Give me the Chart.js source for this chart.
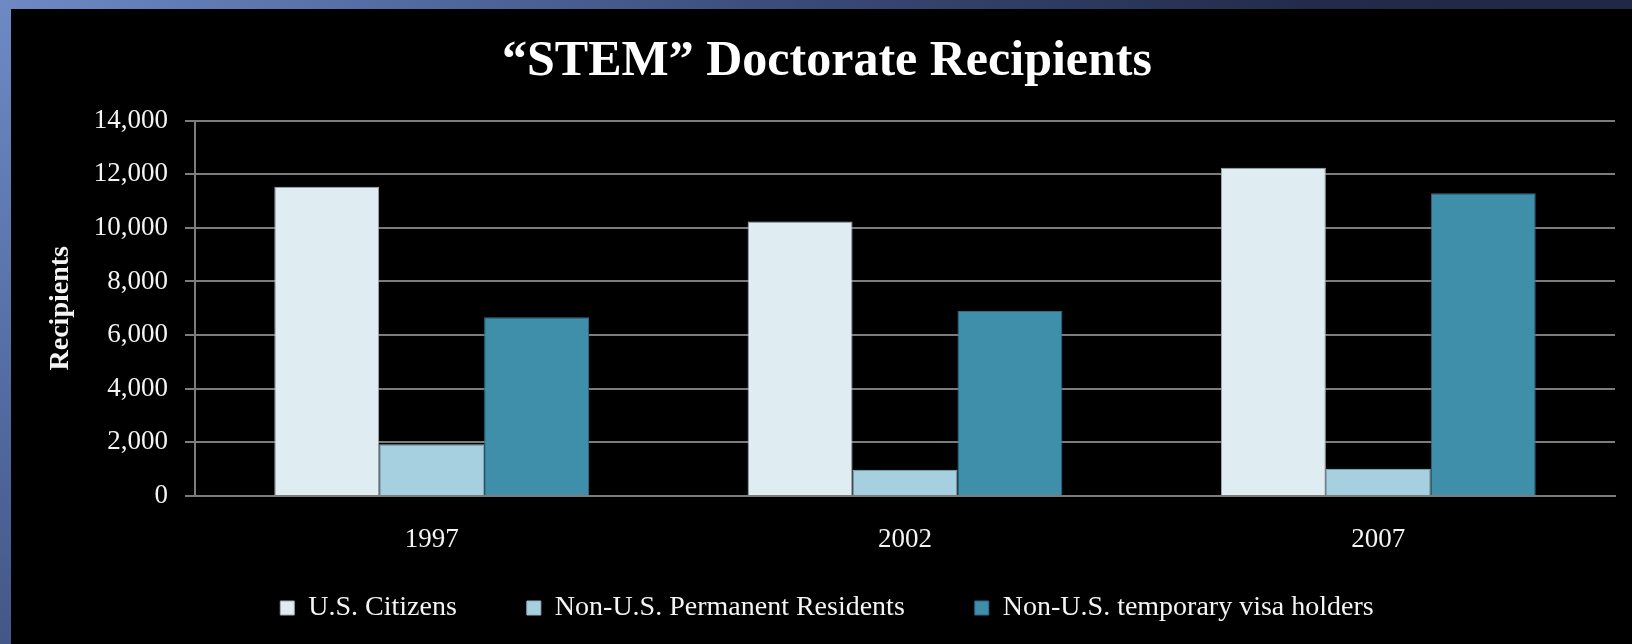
<!DOCTYPE html>
<html>
<head>
<meta charset="utf-8">
<title>STEM Doctorate Recipients</title>
<script src="https://cdn.jsdelivr.net/npm/chart.js@4.4.1/dist/chart.umd.min.js"></script>
<style>
    html, body {
        margin: 0;
        padding: 0;
        width: 1632px;
        height: 644px;
        overflow: hidden;
    }
    body {
        /* slide frame: light blue in the top-left corner fading to navy */
        background: radial-gradient(circle at 0 0, #6e89c4 0px, #566fa6 350px, #3a4a78 800px, #222c4a 1300px, #1e2743 1700px);
        position: relative;
    }
    #frame {
        position: absolute;
        left: 11px;
        top: 9px;
        width: 1621px;
        height: 635px;
        background: #000;
    }
    canvas {
        display: block;
    }
</style>
</head>
<body>
<div id="frame">
    <canvas id="stemChart" width="1621" height="635"></canvas>
</div>
<script>
// Doctorate recipients in STEM fields, by citizenship and year
const years = ['1997', '2002', '2007'];
const usCitizens = [11530, 10230, 12240];
const permanentResidents = [1930, 980, 1020];
const temporaryVisaHolders = [6660, 6900, 11290];

const seriesNames = ['U.S. Citizens', 'Non-U.S. Permanent Residents', 'Non-U.S. temporary visa holders'];
const yTicks = [0, 2000, 4000, 6000, 8000, 10000, 12000, 14000];

const textColor = '#f4f4f4';
const gridColor = '#7c7c7c';

Chart.defaults.font.family = "'Liberation Serif', 'Times New Roman', serif";
Chart.defaults.color = textColor;

// The legend uses wide label padding for the gaps between items, which also
// pushes its row down; grow its box upward after layout so the row sits
// closer to the year labels (bottom edge stays put so nothing gets clipped).
const legendLift = {
    id: 'legendLift',
    afterLayout(chart) {
        chart.legend.top -= 27;
        chart.legend.height += 27;
    }
};

const chartData = {
    labels: years,
    datasets: [{
        label: seriesNames[0],
        data: usCitizens,
        backgroundColor: '#dfedf3',
        borderColor: '#9fabb1',
        borderWidth: 1
    }, {
        label: seriesNames[1],
        data: permanentResidents,
        backgroundColor: '#a6cfe0',
        borderColor: '#8fb8c9',
        borderWidth: 1
    }, {
        label: seriesNames[2],
        data: temporaryVisaHolders,
        backgroundColor: '#3f8eaa',
        borderColor: '#2d6d86',
        borderWidth: 1
    }]
};

new Chart(document.getElementById('stemChart'), {
    type: 'bar',
    data: chartData,
    plugins: [legendLift],
    options: {
        responsive: false,
        animation: false,
        layout: {
            padding: { left: 28, right: 17, top: 0, bottom: 0 }
        },
        datasets: {
            bar: {
                categoryPercentage: 0.665,
                barPercentage: 1
            }
        },
        plugins: {
            title: {
                display: true,
                text: '“STEM” Doctorate Recipients',
                color: '#ffffff',
                font: { size: 50, weight: 'bold', lineHeight: 1.2 },
                padding: { top: 23, bottom: 28.5 }
            },
            legend: {
                position: 'bottom',
                maxHeight: 93,
                labels: {
                    color: textColor,
                    font: { size: 28 },
                    boxWidth: 14,
                    boxHeight: 14,
                    padding: 70
                }
            },
            tooltip: { enabled: false }
        },
        scales: {
            x: {
                grid: { display: false, drawTicks: false },
                border: { display: true, color: gridColor, width: 2 },
                ticks: {
                    color: textColor,
                    font: { size: 27 },
                    padding: 27.8
                },
                afterFit: (scale) => {
                    scale.height = 55;
                }
            },
            y: {
                min: 0,
                max: 14000,
                afterBuildTicks: (scale) => {
                    scale.ticks = yTicks.map(v => ({ value: v }));
                },
                grid: {
                    color: gridColor,
                    lineWidth: 2,
                    tickLength: 10
                },
                border: { display: true, color: gridColor, width: 2 },
                ticks: {
                    color: textColor,
                    font: { size: 27 },
                    padding: 17,
                    callback: (value) => value.toLocaleString('en-US')
                },
                title: {
                    display: true,
                    text: 'Recipients',
                    color: textColor,
                    font: { size: 28, weight: 'bold', lineHeight: 1.2 },
                    padding: { top: 5.2, bottom: 0 }
                },
                afterFit: (scale) => {
                    scale.width = 156;
                }
            }
        }
    }
});
</script>
</body>
</html>
